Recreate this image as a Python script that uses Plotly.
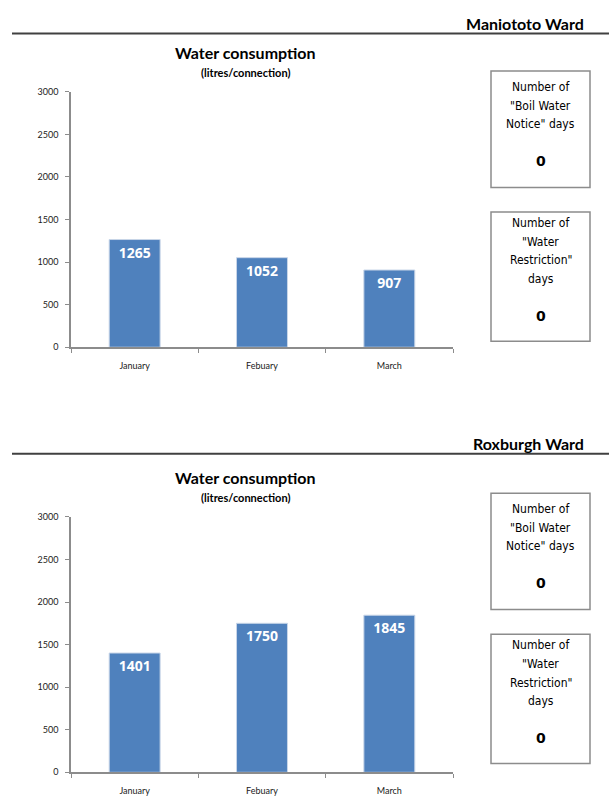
import plotly.graph_objects as go

W, H = 609, 799

months = ["January", "Febuary", "March"]
maniototo_values = [1265, 1052, 907]
roxburgh_values = [1401, 1750, 1845]
wards = ["Maniototo Ward", "Roxburgh Ward"]
boil_days = [0, 0]
restriction_days = [0, 0]
y_ticks = [0, 500, 1000, 1500, 2000, 2500, 3000]

BAR = "#4F81BD"
TFONT = "Lato"

def py(p):
    return 1 - p / H

def px(p):
    return p / W

fig = go.Figure()

series = [maniototo_values, roxburgh_values]
axis_off = [0, 431]
head_off = [0, 426]
box_off = [0, 428]

shapes = []
annotations = []

for i, vals in enumerate(series):
    xa = "x" if i == 0 else "x2"
    ya = "y" if i == 0 else "y2"
    fig.add_trace(go.Bar(
        x=months, y=vals, xaxis=xa, yaxis=ya,
        marker=dict(color=BAR, line=dict(color="#C9D6E8", width=1)),
        width=0.40,
        text=[str(v) for v in vals], textposition="inside",
        insidetextanchor="end",
        textfont=dict(family="Open Sans", size=14, color="white", weight="bold"),
        textangle=0, cliponaxis=False, showlegend=False, hoverinfo="skip",
    ))
    o = axis_off[i]
    h = head_off[i]
    b = box_off[i]
    axis_common = dict(
        showgrid=False, zeroline=False, showline=True, linecolor="#8C8C8C",
        linewidth=1.5, ticks="outside", ticklen=4, tickcolor="#8C8C8C",
        tickfont=dict(family=TFONT, size=9, color="#1a1a1a"),
    )
    xkey = "xaxis" if i == 0 else "xaxis2"
    ykey = "yaxis" if i == 0 else "yaxis2"
    fig.update_layout(**{
        xkey: dict(domain=[px(71), px(453)], anchor=ya, tickson="boundaries",
                   ticklabelstandoff=9, fixedrange=True, **axis_common),
        ykey: dict(domain=[py(346 + o), py(87 + o)], anchor=xa, range=[0, 3000],
                   tickvals=y_ticks, ticklabelstandoff=5, fixedrange=True, **axis_common),
    })
    # header line and ward name
    shapes.append(dict(type="line", xref="paper", yref="paper",
                       x0=px(12), x1=px(609), y0=py(28 + h), y1=py(28 + h),
                       line=dict(color="#404040", width=2)))
    annotations.append(dict(text="<b>" + wards[i] + "</b>", xref="paper", yref="paper",
                            x=px(586), y=py(18 + h), xanchor="right", yanchor="middle",
                            showarrow=False,
                            font=dict(family=TFONT, size=16, color="black")))
    annotations.append(dict(text="<b>Water consumption</b>", xref="paper", yref="paper",
                            x=px(245), y=py(47 + o), xanchor="center", yanchor="middle",
                            showarrow=False,
                            font=dict(family=TFONT, size=16, color="black")))
    annotations.append(dict(text="<b>(litres/connection)</b>", xref="paper", yref="paper",
                            x=px(245), y=py(67 + o), xanchor="center", yanchor="middle",
                            showarrow=False,
                            font=dict(family=TFONT, size=11, color="black")))
    # boxes
    shapes.append(dict(type="rect", xref="paper", yref="paper",
                       x0=px(491), x1=px(590), y0=py(66 + b), y1=py(184 + b),
                       line=dict(color="#8C8C8C", width=1.5), fillcolor="white"))
    shapes.append(dict(type="rect", xref="paper", yref="paper",
                       x0=px(491), x1=px(590), y0=py(209 + b), y1=py(340 + b),
                       line=dict(color="#8C8C8C", width=1.5), fillcolor="white"))
    lines1 = ["Number of", "\"Boil Water", "Notice\" days"]
    for k, t in enumerate(lines1):
        annotations.append(dict(text=t, xref="paper", yref="paper", x=px(540.5),
                                y=py(82 + 19 * k + b), xanchor="center", yanchor="middle",
                                showarrow=False,
                                font=dict(family="DejaVu Sans Condensed", size=12, color="black")))
    annotations.append(dict(text="<b>%d</b>" % boil_days[i], xref="paper", yref="paper",
                            x=px(540.5), y=py(157 + b), xanchor="center", yanchor="middle",
                            showarrow=False,
                            font=dict(family="DejaVu Sans", size=14, color="black")))
    lines2 = ["Number of", "\"Water", "Restriction\"", "days"]
    for k, t in enumerate(lines2):
        annotations.append(dict(text=t, xref="paper", yref="paper", x=px(540.5),
                                y=py(220 + 19 * k + b), xanchor="center", yanchor="middle",
                                showarrow=False,
                                font=dict(family="DejaVu Sans Condensed", size=12, color="black")))
    annotations.append(dict(text="<b>%d</b>" % restriction_days[i], xref="paper", yref="paper",
                            x=px(540.5), y=py(314 + b), xanchor="center", yanchor="middle",
                            showarrow=False,
                            font=dict(family="DejaVu Sans", size=14, color="black")))

fig.update_layout(
    width=W, height=H, margin=dict(l=0, r=0, t=0, b=0),
    paper_bgcolor="white", plot_bgcolor="white",
    shapes=shapes, annotations=annotations, bargap=0.6,
)

fig.write_html("out.html", config={"displayModeBar": False})
